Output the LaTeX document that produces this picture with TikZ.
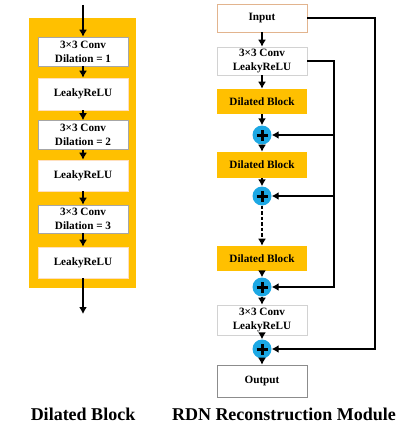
\documentclass[tikz,border=0pt]{standalone}
\usepackage{fontspec}
\setmainfont{Liberation Serif}
\usetikzlibrary{arrows.meta}
\usetikzlibrary{calc}
\definecolor{blockorange}{HTML}{FFC000}
\definecolor{pluscyan}{HTML}{1CA8E4}
\definecolor{inputedge}{HTML}{E2B48E}

\begin{document}
\begin{tikzpicture}[x=1pt,y=-1pt,>={Latex[length=7pt,width=8pt]},
    font=\fontsize{11.2}{14}\selectfont\bfseries,
    flow/.style={->,line width=2.3pt},
    box/.style={draw=gray!70,line width=0.6pt,fill=white,minimum width=90pt,inner sep=0pt,align=center},
    relubox/.style={box,draw=orange!25},
    dblock/.style={box,draw=none,fill=blockorange},
    plusnode/.style={circle,fill=pluscyan,minimum size=19pt,inner sep=0pt,
        path picture={\draw[line width=3pt] ($(path picture bounding box.center)+(-5.5pt,0)$) -- ++(11pt,0)
            ($(path picture bounding box.center)+(0,-5.5pt)$) -- ++(0,11pt);}},
    title/.style={font=\fontsize{18}{20}\selectfont\bfseries}]
        \useasboundingbox (0,0) rectangle (409,425);
        % draw the dilated block
        \fill[blockorange] (29,18) rectangle (136,288);
        \coordinate (din) at (83,5);
        \coordinate (dout) at (83,314);
        \node[box,minimum height=29pt] (c1) at (83,51.5) {3×3 Conv\\Dilation = 1};
        \node[relubox,minimum height=32pt] (r1) at (83,94) {LeakyReLU};
        \node[box,minimum height=29pt] (c2) at (83,135) {3×3 Conv\\Dilation = 2};
        \node[relubox,minimum height=31pt] (r2) at (83,175.5) {LeakyReLU};
        \node[box,minimum height=28pt] (c3) at (83,219) {3×3 Conv\\Dilation = 3};
        \node[relubox,minimum height=31pt] (r3) at (83,262.5) {LeakyReLU};
        \draw[flow] (din) -- (c1);
        \draw[flow] (c1) -- (r1);
        \draw[flow] (r1) -- (c2);
        \draw[flow] (c2) -- (r2);
        \draw[flow] (r2) -- (c3);
        \draw[flow] (c3) -- (r3);
        \draw[flow] (r3) -- (dout);
        % draw the reconstruction module
        \node[box,draw=inputedge,minimum height=28pt] (inp) at (262,18) {Input};
        \node[box,draw=gray!35,minimum height=28pt] (conv1) at (262,61) {3×3 Conv\\LeakyReLU};
        \node[dblock,minimum height=25pt] (db1) at (262,101.5) {Dilated Block};
        \node[plusnode] (p1) at (262,135) {};
        \node[dblock,minimum height=26pt] (db2) at (262,165) {Dilated Block};
        \node[plusnode] (p2) at (262,196) {};
        \node[dblock,minimum height=25pt] (db3) at (262,258.5) {Dilated Block};
        \node[plusnode] (p3) at (262,287) {};
        \node[box,draw=gray!35,minimum height=30pt] (conv2) at (262,320) {3×3 Conv\\LeakyReLU};
        \node[plusnode] (p4) at (262,349) {};
        \node[box,draw=gray!90,minimum height=32pt] (out) at (262,381) {Output};
        \draw[flow] (inp) -- (conv1);
        \draw[flow] (conv1) -- (db1);
        \draw[flow] (db1) -- (p1);
        \draw[flow] (p1) -- (db2);
        \draw[flow] (db2) -- (p2);
        \draw[flow,dash pattern=on 3.5pt off 2pt] (p2) -- (db3);
        \draw[flow] (db3) -- (p3);
        \draw[flow] (p3) -- (conv2);
        \draw[flow] (conv2) -- (p4);
        \draw[flow] (p4) -- (out);
        % draw the skip connections
        \coordinate (skipa) at (334,0);
        \coordinate (skipb) at (375,0);
        \draw[flow] (conv1.east) -- (conv1.east -| skipa) |- (p3.east);
        \draw[flow] (p1.east -| skipa) -- (p1.east);
        \draw[flow] (p2.east -| skipa) -- (p2.east);
        \draw[flow] (inp.east) -- (inp.east -| skipb) |- (p4.east);
        % draw the titles
        \node[title] (t1) at (83,414) {Dilated Block};
        \node[title] (t2) at (284,414) {RDN Reconstruction Module};
    \end{tikzpicture}
\end{document}
